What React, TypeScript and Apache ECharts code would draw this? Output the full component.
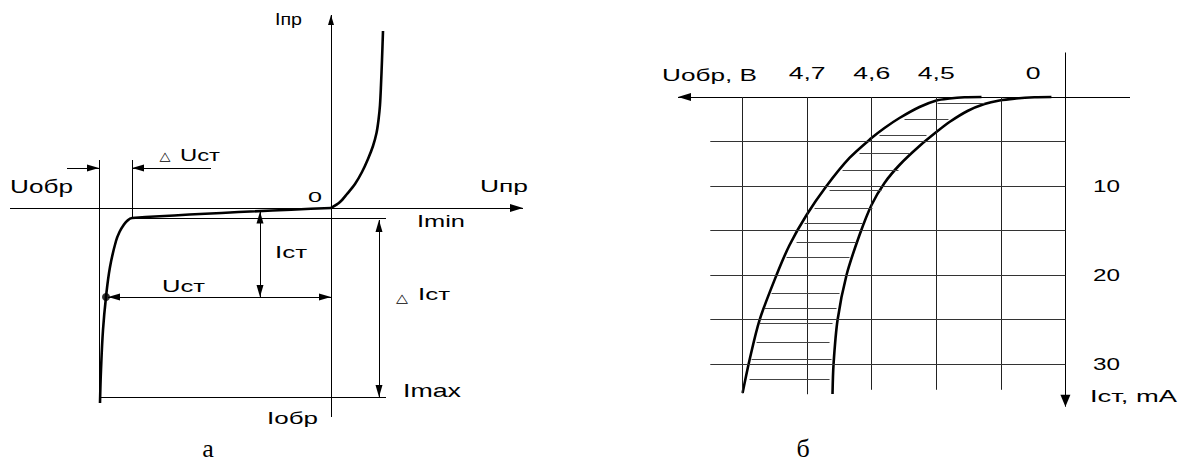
import React, { useEffect, useRef } from 'react';
import * as echarts from 'echarts';

// ---------- Panel а: diode characteristic (arbitrary units) ----------
const forwardU = [0, 0.9, 1.6, 2.4, 3.1, 3.7, 4.2, 4.55, 4.75, 4.9, 5.0, 5.1, 5.2];
const forwardI = [0, 0.6, 1.4, 2.4, 3.6, 4.9, 6.2, 7.5, 8.8, 10.3, 12.3, 14.8, 17.7];
const reverseU = [0, -19.9, -20.4, -20.8, -21.1, -21.5, -22.1, -22.5, -22.8, -23.0, -23.1];
const reverseI = [0, -1.0, -1.3, -1.8, -2.3, -3.3, -5.9, -8.9, -12.2, -16.2, -19.5];
// characteristic levels
const uBreak = -23.2;   // left guide line
const uKnee = -19.9;    // knee
const iMin = -1.0;
const iSt = -8.9;
const iMax = -18.9;
const uStPoint = -22.5;
const dimRight = 5.5;
const guideTop = 4.8;
const dUY = 4.0;
const dUArrowLeft = -26.4;
const dUArrowRight = -12.0;
const iStArrowU = -7.1;
const iStArrowTop = -0.36;
const dIArrowU = 4.8;
const aUMin = -32.1, aUMax = 19.2, aIMin = -20.9, aIMax = 19.3;

// ---------- Panel б: stabilitron curves ----------
const curve1U = [4.43, 4.4563, 4.4796, 4.4997, 4.526, 4.557, 4.5802, 4.6003, 4.6344, 4.67, 4.7009, 4.7272, 4.7474, 4.7737, 4.7892, 4.8];
const curve1I = [0, 0.034, 0.17, 0.39, 1.12, 2.36, 3.48, 4.61, 6.85, 10.0, 13.26, 16.63, 20.0, 25.06, 29.55, 33.26];
const curve2U = [4.3217, 4.348, 4.379, 4.4022, 4.4254, 4.4517, 4.4796, 4.4997, 4.526, 4.557, 4.5802, 4.6003, 4.6189, 4.639, 4.6529, 4.6591, 4.6607];
const curve2I = [0, 0.034, 0.18, 0.39, 0.79, 1.57, 2.81, 3.93, 5.51, 7.64, 9.66, 12.13, 15.51, 20.0, 25.06, 30.0, 33.37];
const hatchI = [0.67, 2.47, 4.27, 6.29, 8.2, 10.45, 12.47, 14.16, 16.29, 17.98, 22.02, 23.71, 25.39, 27.53, 29.44, 31.69];
const hatchLeftU = [4.4981, 4.5492, 4.5879, 4.6189, 4.6452, 4.6653, 4.6885, 4.704, 4.7164, 4.7319, 4.7551, 4.7659, 4.7737, 4.7783, 4.7861, 4.7892];
const hatchRightU = [4.4254, 4.4811, 4.5152, 4.5415, 4.5585, 4.5848, 4.5988, 4.6142, 4.6235, 4.6344, 4.6498, 4.6545, 4.6607, 4.6653, 4.6622, 4.6653];
const gridU = [4.4, 4.5, 4.6, 4.7, 4.8];
const gridUEnd = [32.9, 32.9, 32.9, 33.4, 33.3];
const gridI = [5, 10, 15, 20, 25, 30];
const gridULeft = 4.85;
const uAxisValue = 4.3;
const bUMin = 4.2, bUMax = 4.9, bIMin = -5, bIMax = 34.8;
const uTicks = [4.7, 4.6, 4.5, 4.35];
const uTickLabels = ['4,7', '4,6', '4,5', '0'];
const iTicks = [10, 20, 30];
const iTickLabels = ['10', '20', '30'];

const SANS = '"Liberation Sans", Arial, Helvetica, sans-serif';
const SYM = '"DejaVu Sans", sans-serif';
const SERIF = '"Liberation Serif", "Times New Roman", serif';

const zip = (a: number[], b: number[]) => a.map((v, i) => [v, b[i]]);

function end(coord: number[], arrow: boolean, size: number[]) {
  return arrow
    ? { coord, symbol: 'triangle', symbolSize: size, symbolOffset: [0, size[1] / 2] }
    : { coord, symbol: 'none' };
}

function seg(p1: number[], p2: number[], from = false, to = false, color = '#000', size = [7, 12]) {
  return [
    { ...end(p1, from, size), lineStyle: { color, width: 1, type: 'solid' } },
    end(p2, to, size),
  ];
}

function buildOption() {
  const linesA = [
    seg([aUMin, 0], [aUMax, 0], false, true, '#000', [8, 13]),
    seg([0, aIMin], [0, aIMax], false, true, '#000', [6, 10]),
    seg([uBreak, guideTop], [uBreak, iMax]),
    seg([uKnee, guideTop], [uKnee, iMin]),
    seg([dUArrowLeft, dUY], [uBreak, dUY], false, true),
    seg([dUArrowRight, dUY], [uKnee, dUY], false, true),
    seg([uKnee, iMin], [dimRight, iMin]),
    seg([uBreak, iMax], [dimRight, iMax]),
    seg([iStArrowU, iStArrowTop], [iStArrowU, iSt], true, true),
    seg([uStPoint + 0.2, iSt], [0, iSt], true, true),
    seg([dIArrowU, iMin - 0.2], [dIArrowU, iMax], true, true),
  ];
  const linesB: any[] = [
    seg([bUMin, 0], [bUMax, 0], false, true, '#000', [8, 13]),
    seg([uAxisValue, bIMin], [uAxisValue, bIMax], false, true, '#000', [10, 12]),
  ];
  gridU.forEach((u, i) => linesB.push(seg([u, 0], [u, gridUEnd[i]], false, false, '#222')));
  gridI.forEach((v) => linesB.push(seg([uAxisValue, v], [gridULeft, v], false, false, '#333')));
  hatchI.forEach((v, i) => linesB.push(seg([hatchLeftU[i], v], [hatchRightU[i], v], false, false, '#444')));

  const markBase = {
    silent: true,
    animation: false,
    symbol: ['none', 'none'],
    label: { show: false },
    emphasis: { disabled: true },
  };
  const curveStyle = { color: '#000', width: 2.6 };

  return {
    animation: false,
    backgroundColor: '#fff',
    grid: [
      { left: 10, top: 15, width: 513, height: 402 },
      { left: 678, top: 52.5, width: 452, height: 354.2 },
    ],
    xAxis: [
      { type: 'value', gridIndex: 0, min: aUMin, max: aUMax, show: false },
      { type: 'value', gridIndex: 1, min: bUMin, max: bUMax, inverse: true, show: false },
    ],
    yAxis: [
      { type: 'value', gridIndex: 0, min: aIMin, max: aIMax, show: false },
      { type: 'value', gridIndex: 1, min: bIMin, max: bIMax, inverse: true, show: false },
    ],
    series: [
      {
        type: 'scatter', xAxisIndex: 0, yAxisIndex: 0, z: 2,
        data: [[uStPoint, iSt]], symbolSize: 8, itemStyle: { color: '#000' }, silent: true,
        markLine: { ...markBase, data: linesA },
      },
      {
        type: 'line', xAxisIndex: 0, yAxisIndex: 0, z: 3, data: zip(forwardU, forwardI),
        smooth: 0.3, showSymbol: false, symbol: 'none', lineStyle: curveStyle, silent: true,
      },
      {
        type: 'line', xAxisIndex: 0, yAxisIndex: 0, z: 3, data: zip(reverseU, reverseI),
        smooth: 0.4, showSymbol: false, symbol: 'none', lineStyle: curveStyle, silent: true,
      },
      {
        type: 'scatter', xAxisIndex: 1, yAxisIndex: 1, z: 1, data: [], silent: true,
        markLine: { ...markBase, data: linesB },
      },
      {
        type: 'line', xAxisIndex: 1, yAxisIndex: 1, z: 3, data: zip(curve1U, curve1I),
        smooth: 0.3, showSymbol: false, symbol: 'none', lineStyle: curveStyle, silent: true,
      },
      {
        type: 'line', xAxisIndex: 1, yAxisIndex: 1, z: 3, data: zip(curve2U, curve2I),
        smooth: 0.3, showSymbol: false, symbol: 'none', lineStyle: curveStyle, silent: true,
      },
    ],
  };
}

let measureCtx: CanvasRenderingContext2D | null = null;
function measure(text: string, font: string) {
  if (!measureCtx) measureCtx = document.createElement('canvas').getContext('2d');
  if (!measureCtx) return text.length * 8;
  measureCtx.font = font;
  return measureCtx.measureText(text).width;
}

function textEl(text: string, x: number, y: number, size: number, family: string, targetW?: number, scale?: number) {
  const font = `${size}px ${family}`;
  let s = scale ?? 1;
  if (targetW) s = targetW / Math.max(1, measure(text, font));
  return {
    type: 'text', x, y, scaleX: s, silent: true, z: 10,
    style: {
      text, font, fill: '#000',
      align: 'center', verticalAlign: 'middle',
      textAlign: 'center', textVerticalAlign: 'middle',
    },
  };
}

// annotation layout of panel а (text, centre x, centre y, font size, width)
const annotA: [string, number, number, number, number, string][] = [
  ['Iпр', 288.5, 19.5, 16, 27, SANS],
  ['Uпр', 504, 186, 17, 48, SANS],
  ['0', 315, 197, 14, 14, SANS],
  ['Uобр', 41.5, 187, 18, 63, SANS],
  ['△', 165, 155.5, 12, 11, SYM],
  ['Uст', 200, 155, 17, 40, SANS],
  ['Imin', 441, 221.5, 17, 48, SANS],
  ['Iст', 291, 252, 17, 32, SANS],
  ['Uст', 183.5, 286, 17, 43, SANS],
  ['△', 402, 297.5, 12, 12, SYM],
  ['Iст', 434, 294.5, 17, 32, SANS],
  ['Imax', 432, 391, 18, 58, SANS],
  ['Iобр', 292.5, 418.5, 17, 51, SANS],
];

function buildLabels(chart: any) {
  const els: any[] = [];
  annotA.forEach(([t, x, y, s, w, f]) => els.push(textEl(t, x, y, s, f, w)));
  els.push(textEl('а', 208, 448.5, 26, SERIF));

  // panel б ticks through the chart's scales
  const tickFont = `16px ${SANS}`;
  const uScale = 37 / Math.max(1, measure('4,7', tickFont));
  uTicks.forEach((u, i) => {
    const p = chart.convertToPixel({ gridIndex: 1 }, [u, 0]);
    els.push(textEl(uTickLabels[i], p[0], p[1] - 23, 16, SANS, undefined, uScale));
  });
  const iScale = 27 / Math.max(1, measure('10', tickFont));
  iTicks.forEach((v, i) => {
    const p = chart.convertToPixel({ gridIndex: 1 }, [uAxisValue, v]);
    els.push(textEl(iTickLabels[i], p[0] + 41, p[1], 16, SANS, undefined, iScale));
  });
  els.push(textEl('Uобр, В', 709.5, 75, 16, SANS, 95));
  els.push(textEl('Iст, mA', 1133.5, 397, 16, SANS, 87));
  els.push(textEl('б', 803, 448.5, 26, SERIF));
  return els;
}

export default function App() {
  const ref = useRef<HTMLDivElement>(null);
  useEffect(() => {
    if (!ref.current) return;
    const chart = echarts.init(ref.current, null, { renderer: 'svg' });
    chart.setOption(buildOption() as any);
    chart.setOption({ graphic: buildLabels(chart) } as any);
    return () => chart.dispose();
  }, []);
  return (
    <div
      ref={ref}
      style={{ position: 'fixed', left: 0, top: 0, width: 1179, height: 463, background: '#fff' }}
    />
  );
}
